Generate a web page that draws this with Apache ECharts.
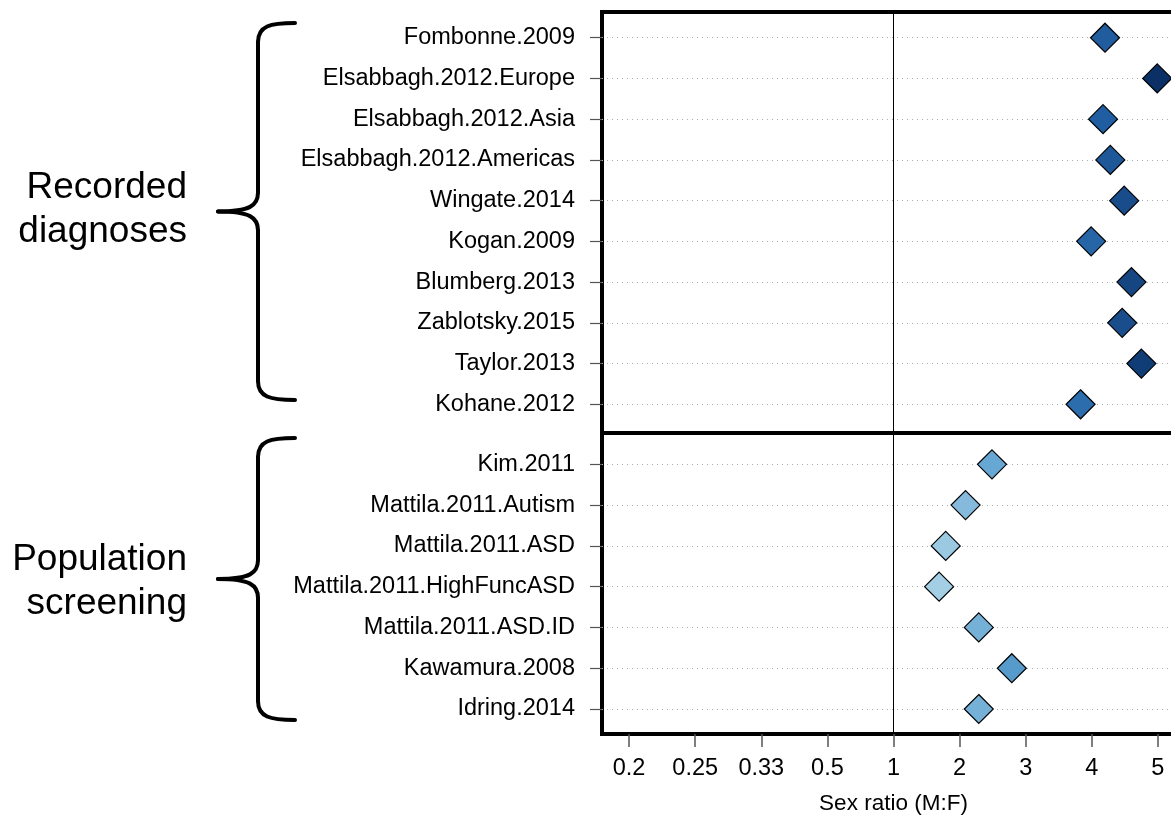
<!DOCTYPE html>
<html>
<head>
<meta charset="utf-8">
<script src="https://cdn.jsdelivr.net/npm/echarts@6/dist/echarts.min.js"></script>
<style>
  html, body { margin: 0; padding: 0; background: #fff; }
  #chart { width: 1171px; height: 816px; }
</style>
</head>
<body>
<div id="chart"></div>
<script>
var recordedStudies = [
  "Fombonne.2009", "Elsabbagh.2012.Europe", "Elsabbagh.2012.Asia", "Elsabbagh.2012.Americas",
  "Wingate.2014", "Kogan.2009", "Blumberg.2013", "Zablotsky.2015", "Taylor.2013", "Kohane.2012"
];
var recordedRatios = [4.2, 4.99, 4.17, 4.28, 4.49, 3.99, 4.6, 4.46, 4.75, 3.83];

var screeningStudies = [
  "Kim.2011", "Mattila.2011.Autism", "Mattila.2011.ASD", "Mattila.2011.HighFuncASD",
  "Mattila.2011.ASD.ID", "Kawamura.2008", "Idring.2014"
];
var screeningRatios = [2.49, 2.09, 1.79, 1.69, 2.29, 2.79, 2.29];

var tickRatios = [1 / 5, 1 / 4, 1 / 3, 1 / 2, 1, 2, 3, 4, 5];
var tickLabels = ["0.2", "0.25", "0.33", "0.5", "1", "2", "3", "4", "5"];

// ratios below 1 are mirrored (1/x) so that 0.5 and 2 sit at the same distance from 1
function toAxis(r) {
  return r >= 1 ? r - 1 : 1 - 1 / r;
}

var FONT = '"Liberation Sans", Arial, Helvetica, sans-serif';
var tickPos = tickRatios.map(toAxis);

function rowAxis(grid, names, min, max) {
  var rows = names.map(function (n, i) { return i; });
  return {
    gridIndex: grid,
    type: "value",
    inverse: true,
    min: min,
    max: max,
    axisLine: { show: false, onZero: false },
    axisTick: {
      show: true,
      customValues: rows,
      length: 12,
      lineStyle: { color: "#555", width: 1.2 },
    },
    axisLabel: {
      customValues: rows,
      margin: 27,
      fontSize: 23.5,
      fontFamily: FONT,
      color: "#000",
      formatter: function (v) {
        return names[Math.round(v)] || "";
      },
    },
    splitLine: {
      show: true,
      lineStyle: { color: "#aaa", width: 1, type: [1, 4] },
    },
  };
}

function rowSeries(grid, ratios) {
  return {
    type: "scatter",
    xAxisIndex: grid,
    yAxisIndex: grid,
    symbol: "diamond",
    symbolSize: 29,
    itemStyle: { borderColor: "#000", borderWidth: 1.2, opacity: 1 },
    data: ratios.map(function (r, i) {
      return [toAxis(r), i, r];
    }),
    markLine: {
      silent: true,
      symbol: "none",
      label: { show: false },
      lineStyle: { color: "#000", width: 1, type: "solid" },
      data: [{ xAxis: 0 }],
    },
    z: 5,
  };
}

// curly brace made of lines and bezier curves, tip pointing left
function brace(top, bottom) {
  var mid = (top + bottom) / 2;
  var st = { fill: "none", stroke: "#000", lineWidth: 4, lineCap: "round" };
  return [
    { type: "bezierCurve", shape: { x1: 295, y1: top, cpx1: 270, cpy1: top, cpx2: 258, cpy2: top + 3, x2: 258, y2: top + 19 }, style: st },
    { type: "line", shape: { x1: 258, y1: top + 19, x2: 258, y2: mid - 19 }, style: st },
    { type: "bezierCurve", shape: { x1: 258, y1: mid - 19, cpx1: 258, cpy1: mid - 6, cpx2: 250, cpy2: mid, x2: 218, y2: mid }, style: st },
    { type: "bezierCurve", shape: { x1: 218, y1: mid, cpx1: 250, cpy1: mid, cpx2: 258, cpy2: mid + 6, x2: 258, y2: mid + 19 }, style: st },
    { type: "line", shape: { x1: 258, y1: mid + 19, x2: 258, y2: bottom - 19 }, style: st },
    { type: "bezierCurve", shape: { x1: 258, y1: bottom - 19, cpx1: 258, cpy1: bottom - 3, cpx2: 270, cpy2: bottom, x2: 295, y2: bottom }, style: st },
  ];
}

function groupLabel(text, y) {
  return {
    type: "text",
    x: 187,
    y: y,
    style: {
      text: text,
      fontSize: 37,
      fontFamily: FONT,
      fill: "#000",
      align: "right",
      verticalAlign: "middle",
      lineHeight: 44,
    },
  };
}

var chart = echarts.init(document.getElementById("chart"));
var option = {
  animation: false,
  textStyle: { fontFamily: FONT },
  grid: [
    { left: 602, width: 583, top: 12, height: 421, show: true, borderColor: "#000", borderWidth: 4, outerBoundsMode: "none" },
    { left: 602, width: 583, top: 433, height: 301, show: true, borderColor: "#000", borderWidth: 4, outerBoundsMode: "none" },
  ],
  xAxis: [
    {
      gridIndex: 0,
      type: "value",
      min: -4.41,
      max: 4.41,
      axisLine: { show: false, onZero: false },
      axisTick: { show: false },
      axisLabel: { show: false },
      splitLine: { show: false },
    },
    {
      gridIndex: 1,
      type: "value",
      position: "bottom",
      min: -4.41,
      max: 4.41,
      axisLine: { show: false, onZero: false },
      axisTick: {
        show: true,
        customValues: tickPos,
        length: 13,
        lineStyle: { color: "#555", width: 1.5 },
      },
      axisLabel: {
        customValues: tickPos,
        margin: 23,
        fontSize: 23.5,
        fontFamily: FONT,
        color: "#000",
        formatter: function (v) {
          for (var i = 0; i < tickPos.length; i++) {
            if (Math.abs(tickPos[i] - v) < 1e-6) return tickLabels[i];
          }
          return "";
        },
      },
      splitLine: { show: false },
      name: "Sex ratio (M:F)",
      nameLocation: "middle",
      nameGap: 58,
      nameTextStyle: { fontSize: 22.5, fontFamily: FONT, color: "#000" },
    },
  ],
  yAxis: [
    rowAxis(0, recordedStudies, -0.631, 9.705),
    rowAxis(1, screeningStudies, -0.768, 6.613),
  ],
  visualMap: {
    show: false,
    type: "continuous",
    dimension: 2,
    seriesIndex: [0, 1],
    min: 1.6,
    max: 5,
    inRange: { color: ["#aad2e6", "#69a9d4", "#3d84bf", "#215fa2", "#0b2f65"] },
  },
  series: [rowSeries(0, recordedRatios), rowSeries(1, screeningRatios)],
  graphic: brace(23, 400)
    .concat(brace(438, 720))
    .concat([groupLabel("Recorded\ndiagnoses", 210), groupLabel("Population\nscreening", 582)]),
};
chart.setOption(option);
window.addEventListener("resize", chart.resize);
</script>
</body>
</html>
